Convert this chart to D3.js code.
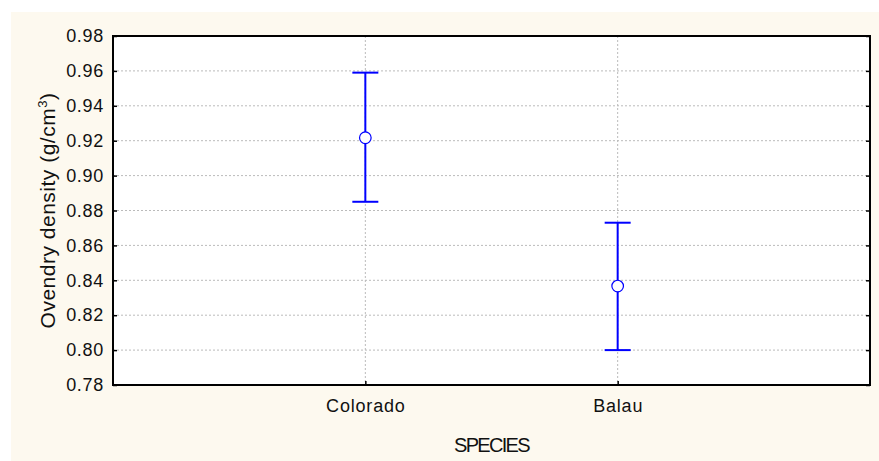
<!DOCTYPE html>
<html>
<head>
<meta charset="UTF-8" />
<script src="https://d3js.org/d3.v7.min.js"></script>
<style>
  body { margin: 0; background: #fff; }
  text { font-family: "Liberation Sans", Arial, sans-serif; fill: #111; }
</style>
</head>
<body>
<div id="main"></div>
<script>
var species = ['Colorado', 'Balau'];
var means = [0.9217, 0.8367];
var upper = [0.959, 0.873];
var lower = [0.885, 0.800];
var yTicks = [0.78, 0.80, 0.82, 0.84, 0.86, 0.88, 0.90, 0.92, 0.94, 0.96, 0.98];

var width = 879, height = 461;
var margin = {top: 36, right: 9, bottom: 76, left: 113};

var svg = d3.select('#main').append('svg')
  .attr('width', width).attr('height', height);

// cream background panel
svg.append('rect')
  .attr('x', 11).attr('y', 12)
  .attr('width', width - 11).attr('height', height - 12)
  .attr('fill', '#fdf9ef');

var x = d3.scalePoint().domain(species)
  .range([margin.left, width - margin.right]).padding(1);
var y = d3.scaleLinear().domain([0.78, 0.98])
  .range([height - margin.bottom, margin.top]);

svg.append('rect')
  .attr('x', margin.left).attr('y', margin.top)
  .attr('width', width - margin.right - margin.left)
  .attr('height', height - margin.bottom - margin.top)
  .attr('fill', '#fff');

// grid lines
svg.append('g').selectAll('line')
  .data(yTicks.slice(1, -1))
  .enter().append('line')
  .attr('x1', margin.left).attr('x2', width - margin.right)
  .attr('y1', d => y(d)).attr('y2', d => y(d))
  .attr('stroke', '#bbb').attr('stroke-dasharray', '2,2');

svg.append('g').selectAll('line')
  .data(species)
  .enter().append('line')
  .attr('x1', d => x(d)).attr('x2', d => x(d))
  .attr('y1', margin.top).attr('y2', height - margin.bottom)
  .attr('stroke', '#bbb').attr('stroke-dasharray', '2,2');

// axes
var yAxis = d3.axisLeft(y).tickValues(yTicks).tickFormat(d3.format('.2f'))
  .tickSizeInner(-4).tickSizeOuter(0).tickPadding(9);
var gy = svg.append('g').attr('transform', 'translate(' + margin.left + ',0)').call(yAxis);
gy.selectAll('text').style('font-size', '18px').style('letter-spacing', '0.7px');

var yAxisR = d3.axisRight(y).tickValues(yTicks).tickFormat('')
  .tickSizeInner(-4).tickSizeOuter(0);
svg.append('g').attr('transform', 'translate(' + (width - margin.right) + ',0)').call(yAxisR);

var xAxis = d3.axisBottom(x).tickSizeInner(-4).tickSizeOuter(0).tickPadding(14);
var gx = svg.append('g').attr('transform', 'translate(0,' + (height - margin.bottom) + ')').call(xAxis);
gx.selectAll('text').style('font-size', '18px').style('letter-spacing', '0.8px');

svg.selectAll('.domain').remove();
svg.selectAll('.tick line').attr('stroke', '#000').attr('stroke-width', 1.5);

// frame
svg.append('rect')
  .attr('x', margin.left).attr('y', margin.top)
  .attr('width', width - margin.right - margin.left)
  .attr('height', height - margin.bottom - margin.top)
  .attr('fill', 'none').attr('stroke', '#000').attr('stroke-width', 2);

// error bars
var g = svg.append('g');
species.forEach(function (s, i) {
  var cx = x(s);
  g.append('line').attr('x1', cx).attr('x2', cx)
    .attr('y1', y(upper[i])).attr('y2', y(lower[i]))
    .attr('stroke', '#0000ff').attr('stroke-width', 2);
  [upper[i], lower[i]].forEach(function (v) {
    g.append('line').attr('x1', cx - 13).attr('x2', cx + 13)
      .attr('y1', y(v)).attr('y2', y(v))
      .attr('stroke', '#0000ff').attr('stroke-width', 2);
  });
  g.append('circle').attr('cx', cx).attr('cy', y(means[i])).attr('r', 5.8)
    .attr('fill', '#fff').attr('stroke', '#0000ff').attr('stroke-width', 1.2);
});

// labels
svg.append('text')
  .attr('x', (margin.left + width - margin.right) / 2).attr('y', 452)
  .attr('text-anchor', 'middle').style('font-size', '20px')
  .style('letter-spacing', '-1.7px')
  .text('SPECIES');

var yl = svg.append('text')
  .attr('transform', 'translate(55,' + ((margin.top + height - margin.bottom) / 2) + ') rotate(-90)')
  .attr('text-anchor', 'middle').style('font-size', '21px').style('letter-spacing', '0.5px');
yl.append('tspan').text('Ovendry density (g/cm');
yl.append('tspan').attr('dy', -8).style('font-size', '13px').text('3');
yl.append('tspan').attr('dy', 8).text(')');
</script>
</body>
</html>
